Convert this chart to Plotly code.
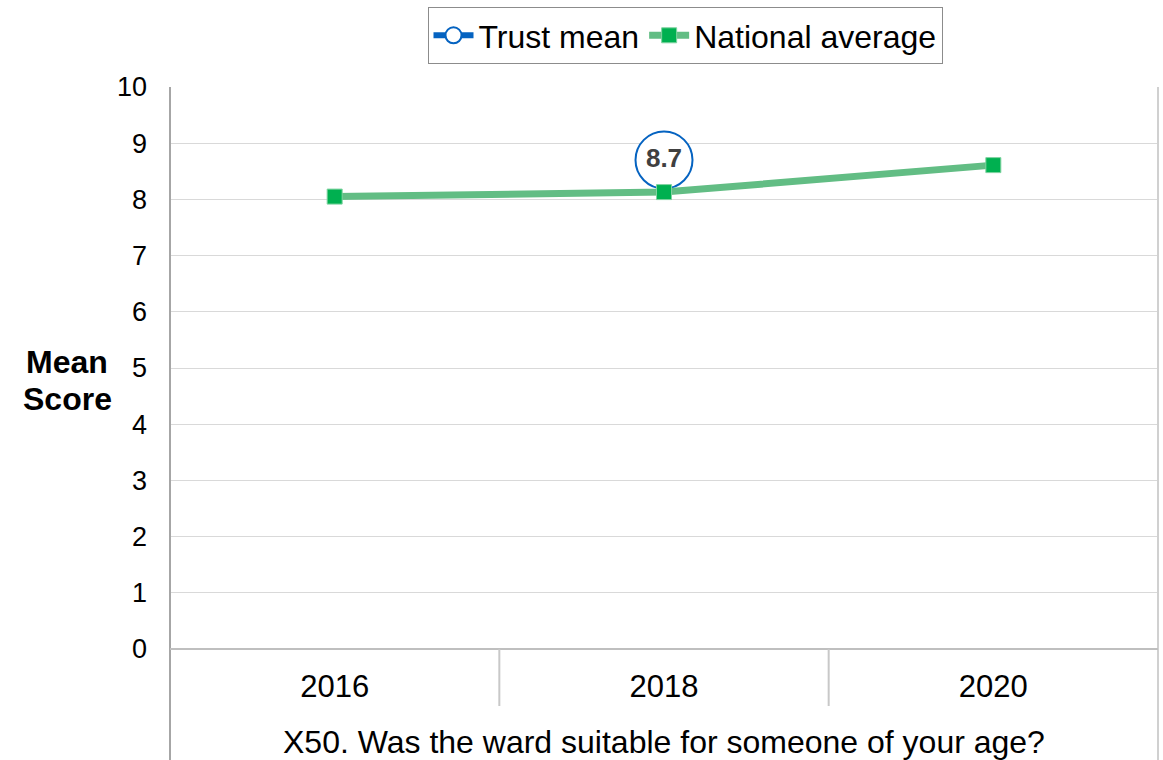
import plotly.graph_objects as go

# Survey years and scores
years = ["2016", "2018", "2020"]
trust_mean = [None, 8.7, None]
national_average = [8.05, 8.13, 8.61]
y_ticks = list(range(0, 11))
question = "X50. Was the ward suitable for someone of your age?"

FONT = "Arial, Liberation Sans, sans-serif"
W, H = 1163, 760
ML, MR, MT, MB = 170, 5, 87, 111
plot_w = W - ML - MR
plot_h = H - MT - MB
below = MB / plot_h          # paper-units depth of the area under the x axis
divider = 57 / plot_h        # depth of the category separators


def px_x(px):
    return (px - ML) / plot_w


def px_y(py):
    return (H - MB - py) / plot_h


xs = list(range(len(years)))

fig = go.Figure()

fig.add_trace(go.Scatter(
    x=xs, y=trust_mean, name="Trust mean",
    mode="lines+markers+text",
    text=[("" if v is None else f"{v:.1f}") for v in trust_mean],
    textposition="middle center",
    textfont=dict(family=FONT, size=26, color="#404040", weight="bold"),
    line=dict(color="#0563C1", width=6),
    marker=dict(symbol="circle", size=57, color="white",
                line=dict(color="#0563C1", width=2)),
    cliponaxis=False,
))

fig.add_trace(go.Scatter(
    x=xs, y=national_average, name="National average",
    mode="lines+markers",
    line=dict(color="#62BD84", width=7),
    marker=dict(symbol="square", size=15, color="#00B050",
                line=dict(color="#7FD3A0", width=1)),
    cliponaxis=False,
))

shapes = [
    # outer frame lines extending below the axis
    dict(type="line", xref="paper", yref="paper", x0=0, x1=0, y0=1, y1=-below,
         line=dict(color="#A6A6A6", width=2)),
    dict(type="line", xref="paper", yref="paper", x0=1, x1=1, y0=1, y1=-below,
         line=dict(color="#D0D0D0", width=2)),
    # x axis baseline
    dict(type="line", xref="paper", yref="paper", x0=0, x1=1, y0=0, y1=0,
         line=dict(color="#BFBFBF", width=2)),
]
for b in [i + 0.5 for i in xs[:-1]]:
    shapes.append(dict(type="line", xref="x", yref="paper", x0=b, x1=b,
                       y0=0, y1=-divider, line=dict(color="#C8C8C8", width=2)))

annotations = [
    dict(text="<b>Mean</b>", xref="paper", yref="paper",
         x=px_x(67), y=px_y(362), xanchor="center", yanchor="middle",
         showarrow=False, font=dict(family=FONT, size=32, color="black")),
    dict(text="<b>Score</b>", xref="paper", yref="paper",
         x=px_x(67), y=px_y(399), xanchor="center", yanchor="middle",
         showarrow=False, font=dict(family=FONT, size=32, color="black")),
    dict(text=question, xref="paper", yref="paper",
         x=0.5, y=px_y(742), xanchor="center", yanchor="middle",
         showarrow=False, font=dict(family=FONT, size=32, color="black")),
]

fig.update_layout(
    width=W, height=H,
    margin=dict(l=ML, r=MR, t=MT, b=MB),
    paper_bgcolor="white", plot_bgcolor="white",
    font=dict(family=FONT, color="black"),
    showlegend=True,
    legend=dict(
        orientation="h",
        x=px_x(685), xanchor="center",
        y=px_y(7), yanchor="top",
        font=dict(family=FONT, size=32, color="black"),
        bordercolor="#8C8C8C", borderwidth=1,
        bgcolor="white",
        itemwidth=40,
        tracegroupgap=0,
    ),
    xaxis=dict(
        range=[-0.5, len(years) - 0.5],
        tickmode="array", tickvals=xs, ticktext=years,
        tickfont=dict(family=FONT, size=31, color="black"),
        showgrid=False, zeroline=False, showline=False,
        ticks="", ticklabelstandoff=16,
        fixedrange=True,
    ),
    yaxis=dict(
        range=[0, 10],
        tickmode="array", tickvals=y_ticks,
        tickfont=dict(family=FONT, size=27, color="black"),
        showgrid=True, gridcolor="#D9D9D9", gridwidth=1,
        zeroline=False, showline=False,
        ticks="", ticklabelstandoff=22,
        fixedrange=True,
    ),
    shapes=shapes,
    annotations=annotations,
)

fig.write_html("out.html")
